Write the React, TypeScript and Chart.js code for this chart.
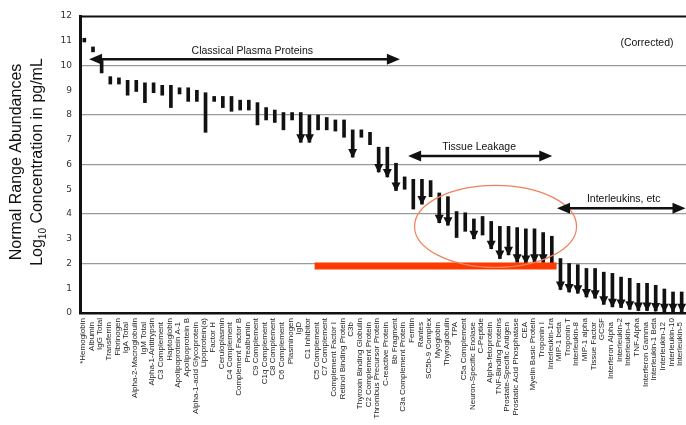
import React, { useEffect, useRef } from "react";
import { Chart, registerables } from "chart.js";

Chart.register(...registerables);

const categories = [
  "*Hemoglobin", "Albumin", "IgG Total", "Transferrin", "Fibrinogen", "IgA Total",
  "Alpha-2-Macroglobulin", "IgM Total", "Alpha-1-Antitrypsin", "C3 Complement",
  "Haptoglobin", "Apolipoprotein A-1", "Apolipoprotein B", "Alpha-1-acid Glycoprotein",
  "Lipoprotein(a)", "Factor H", "Ceruloplasmin", "C4 Complement", "Complement Factor B",
  "Prealbumin", "C9 Complement", "C1q Complement", "C8 Complement", "C6 Complement",
  "Plasminogen", "IgD", "C1 Inhibitor", "C5 Complement", "C7 Complement",
  "Complement Factor I", "Retinol Binding Protein", "C3b", "Thyroxin Binding Globulin",
  "C2 Complement Protein", "Thrombus Precursor Protein", "C-reactive Protein", "Bb Fragment",
  "C3a Complement Protein", "Ferritin", "Rantes", "SC5b-9 Complex", "Myoglobin",
  "Thyroglobulin", "TPA", "C5a Complement", "Neuron-Specific Enolase", "C-Peptide",
  "Alpha-fetoprotein", "TNF-Binding Proteins", "Prostate-Specific Antigen",
  "Prostatic Acid Phosphatase", "CEA", "Myelin Basic Protein", "Troponin I",
  "Interleukin-1ra", "MIP-1 beta", "Troponin T", "Interleukin-8", "MIP-1 alpha",
  "Tissue Factor", "GCSF", "Interferon Alpha", "Interleukin-2", "Interleukin-4",
  "TNF-Alpha", "Interferon Gamma", "Interleukin-1 Beta", "Interleukin-12",
  "Interleukin-10", "Interleukin-5",
];

const lowValues = [
  10.95, 10.55, 9.7, 9.25, 9.25, 8.8, 8.95, 8.5, 8.9, 8.8,
  8.3, 8.85, 8.55, 8.55, 7.3, 8.55, 8.3, 8.15, 8.2, 8.2,
  7.6, 7.8, 7.7, 7.4, 7.8, 6.9, 6.9, 7.4, 7.4, 7.35,
  7.1, 6.3, 7.1, 6.8, 5.7, 5.5, 4.95, 5.0, 4.2, 4.4,
  4.7, 3.65, 3.55, 3.05, 3.3, 3.0, 3.15, 2.6, 2.2, 2.35,
  2.05, 2.0, 2.05, 2.05, 2.0, 0.95, 0.85, 0.8, 0.65, 0.6,
  0.35, 0.25, 0.22, 0.15, 0.1, 0.1, 0.08, 0.05, 0.05, 0.05,
];

const highValues = [
  11.1, 10.75, 10.2, 9.55, 9.5, 9.4, 9.4, 9.3, 9.3, 9.2,
  9.2, 9.1, 9.1, 9.0, 8.9, 8.75, 8.75, 8.75, 8.6, 8.6,
  8.5, 8.3, 8.2, 8.1, 8.1, 8.1, 8.0, 8.0, 7.9, 7.8,
  7.8, 7.4, 7.4, 7.3, 6.7, 6.7, 6.05, 5.5, 5.4, 5.4,
  5.35, 4.85, 4.7, 4.1, 4.05, 3.8, 3.9, 3.7, 3.5, 3.5,
  3.45, 3.4, 3.4, 3.25, 3.1, 2.2, 2.0, 1.95, 1.8, 1.8,
  1.65, 1.6, 1.45, 1.4, 1.2, 1.2, 1.12, 0.97, 0.85, 0.85,
];

// 1 = lower limit open (drawn with a downward arrow)
const arrowFlags = [
  0, 0, 0, 0, 0, 0, 0, 0, 0, 0,
  0, 0, 0, 0, 0, 0, 0, 0, 0, 0,
  0, 0, 0, 0, 0, 1, 1, 0, 0, 0,
  0, 1, 0, 0, 1, 1, 1, 0, 0, 1,
  0, 1, 1, 0, 0, 1, 0, 1, 1, 1,
  1, 1, 1, 1, 0, 1, 1, 1, 1, 1,
  1, 1, 1, 1, 1, 1, 1, 1, 1, 1,
];

const yMin = 0;
const yMax = 12;
const gridValues = [2, 4, 6, 8, 10];

function drawDoubleArrow(ctx: CanvasRenderingContext2D, x1: number, x2: number, yy: number) {
  const hl = 13;
  const hh = 5.5;
  ctx.strokeStyle = "#111";
  ctx.fillStyle = "#111";
  ctx.lineWidth = 2.5;
  ctx.beginPath();
  ctx.moveTo(x1 + hl - 1, yy);
  ctx.lineTo(x2 - hl + 1, yy);
  ctx.stroke();
  ctx.beginPath();
  ctx.moveTo(x1, yy);
  ctx.lineTo(x1 + hl, yy - hh);
  ctx.lineTo(x1 + hl, yy + hh);
  ctx.closePath();
  ctx.fill();
  ctx.beginPath();
  ctx.moveTo(x2, yy);
  ctx.lineTo(x2 - hl, yy - hh);
  ctx.lineTo(x2 - hl, yy + hh);
  ctx.closePath();
  ctx.fill();
}

const annotPlugin = {
  id: "annot",
  beforeDatasetsDraw(chart: any) {
    const { ctx, chartArea } = chart;
    ctx.save();
    ctx.strokeStyle = "#111";
    ctx.lineWidth = 2;
    ctx.beginPath();
    ctx.moveTo(chartArea.left, chartArea.top + 0.5);
    ctx.lineTo(chartArea.right, chartArea.top + 0.5);
    ctx.stroke();
    ctx.restore();
  },
  afterDatasetsDraw(chart: any) {
    const { ctx, chartArea } = chart;
    const x = chart.scales.x;
    const y = chart.scales.y;
    ctx.save();
    // arrowheads on open-ended ranges
    ctx.fillStyle = "#111";
    for (let i = 0; i < categories.length; i++) {
      if (!arrowFlags[i]) continue;
      const px = x.getPixelForValue(i);
      const py = y.getPixelForValue(lowValues[i]);
      ctx.beginPath();
      ctx.moveTo(px, py + 1);
      ctx.lineTo(px - 4.5, py - 8);
      ctx.lineTo(px + 4.5, py - 8);
      ctx.closePath();
      ctx.fill();
    }

    // orange bar
    ctx.fillStyle = "#ff3a00";
    const ox1 = x.getPixelForValue(26.6);
    const ox2 = x.getPixelForValue(54.55);
    const oy = y.getPixelForValue(1.9);
    ctx.fillRect(ox1, oy - 3.5, ox2 - ox1, 7);

    // ellipse
    ctx.strokeStyle = "#f0805a";
    ctx.lineWidth = 1.2;
    ctx.beginPath();
    const ecx = x.getPixelForValue(47.5);
    const ecy = y.getPixelForValue(3.5);
    ctx.ellipse(ecx, ecy, 81, 41, 0, 0, Math.PI * 2);
    ctx.stroke();

    // range arrows
    drawDoubleArrow(ctx, x.getPixelForValue(0.55), x.getPixelForValue(36.45), y.getPixelForValue(10.25));
    drawDoubleArrow(ctx, x.getPixelForValue(37.4), x.getPixelForValue(54.05), y.getPixelForValue(6.34));
    drawDoubleArrow(ctx, x.getPixelForValue(54.6), chartArea.right - 0.5, y.getPixelForValue(4.23));

    ctx.fillStyle = "#111";
    ctx.textAlign = "center";
    ctx.textBaseline = "middle";
    ctx.font = '10.5px "Liberation Sans", Arial, sans-serif';
    ctx.fillText("Classical Plasma Proteins", x.getPixelForValue(19.4), y.getPixelForValue(10.25) - 8);
    ctx.fillText("Tissue Leakage", x.getPixelForValue(45.6), y.getPixelForValue(6.34) - 8.5);
    ctx.fillText("Interleukins, etc", x.getPixelForValue(62.3), y.getPixelForValue(4.23) - 9);
    ctx.fillText("(Corrected)", 647, y.getPixelForValue(10.9));
    ctx.restore();
  },
  afterDraw(chart: any) {
    const { ctx, chartArea } = chart;
    const x = chart.scales.x;
    ctx.save();
    // category labels, rotated and staggered
    ctx.fillStyle = "#222";
    ctx.font = '8px "Liberation Sans", Arial, sans-serif';
    ctx.textAlign = "right";
    ctx.textBaseline = "middle";
    for (let i = 0; i < categories.length; i++) {
      const px = x.getPixelForValue(i) - 1.5;
      const py = chartArea.bottom + 5 + (i % 2) * 4;
      ctx.save();
      ctx.translate(px, py);
      ctx.rotate(-Math.PI / 2);
      ctx.fillText(categories[i], 0, 0);
      ctx.restore();
    }

    // y-axis title
    const cy = 162;
    ctx.fillStyle = "#111";
    ctx.textBaseline = "middle";
    ctx.textAlign = "center";
    ctx.font = '16px "Liberation Sans", Arial, sans-serif';
    ctx.save();
    ctx.translate(17, cy);
    ctx.rotate(-Math.PI / 2);
    ctx.fillText("Normal Range Abundances", 0, 0);
    ctx.restore();

    ctx.save();
    ctx.translate(38, cy);
    ctx.rotate(-Math.PI / 2);
    const big = '16px "Liberation Sans", Arial, sans-serif';
    const small = '10px "Liberation Sans", Arial, sans-serif';
    ctx.font = big;
    const w1 = ctx.measureText("Log").width;
    const w3 = ctx.measureText(" Concentration in pg/mL").width;
    ctx.font = small;
    const w2 = ctx.measureText("10").width;
    let sx = -(w1 + w2 + w3) / 2;
    ctx.textAlign = "left";
    ctx.font = big;
    ctx.fillText("Log", sx, 0);
    sx += w1;
    ctx.font = small;
    ctx.fillText("10", sx, 5);
    sx += w2;
    ctx.font = big;
    ctx.fillText(" Concentration in pg/mL", sx, 0);
    ctx.restore();

    ctx.restore();
  },
};

export default function App() {
  const canvasRef = useRef<HTMLCanvasElement | null>(null);

  useEffect(() => {
    const canvas = canvasRef.current;
    if (!canvas) return;
    const chart = new Chart(canvas, {
      type: "bar",
      data: {
        labels: categories,
        datasets: [
          {
            data: categories.map((_, i) => [lowValues[i], highValues[i]]) as any,
            backgroundColor: "#111",
            borderWidth: 0,
            barThickness: 3,
          },
        ],
      },
      options: {
        animation: false,
        responsive: false,
        devicePixelRatio: 1,
        layout: { padding: { top: 16, right: 0, left: 0, bottom: 0 } },
        plugins: {
          legend: { display: false },
          tooltip: { enabled: false },
          title: { display: false },
        },
        scales: {
          x: {
            type: "category",
            offset: true,
            grid: { display: false, drawTicks: false },
            border: { display: true, color: "#111", width: 2.5 },
            ticks: { display: false },
            afterFit: (s: any) => {
              s.height = 112;
            },
          },
          y: {
            min: yMin,
            max: yMax,
            ticks: {
              stepSize: 1,
              padding: 8,
              color: "#333",
              font: { family: '"DejaVu Sans", Verdana, sans-serif', size: 9 },
            },
            grid: {
              drawTicks: false,
              lineWidth: 1.3,
              color: (c: any) => (gridValues.includes(c.tick?.value) ? "#9a9a9a" : "rgba(0,0,0,0)"),
            },
            border: { display: true, color: "#111", width: 3 },
            afterFit: (s: any) => {
              s.width = 80;
            },
          },
        },
      },
      plugins: [annotPlugin],
    });
    return () => chart.destroy();
  }, []);

  return (
    <div style={{ position: "fixed", left: 0, top: 0, width: 686, height: 425, background: "#fff" }}>
      <canvas ref={canvasRef} width={686} height={425} style={{ width: 686, height: 425, display: "block" }} />
    </div>
  );
}
